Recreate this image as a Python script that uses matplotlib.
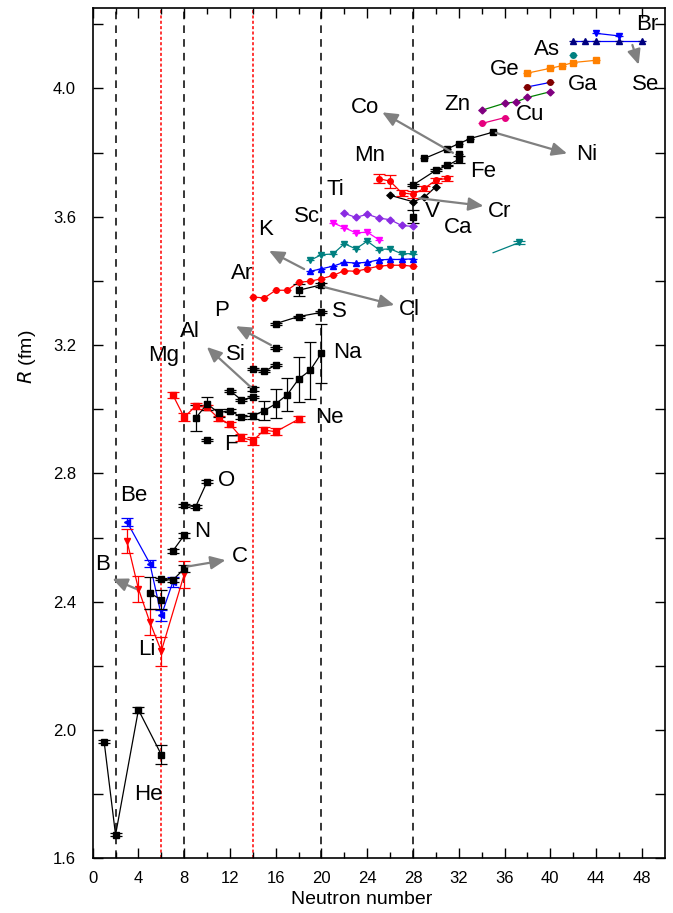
import numpy as np
import matplotlib
matplotlib.use("Agg")
import matplotlib.pyplot as plt

plt.rcParams["font.family"] = ["Liberation Sans", "DejaVu Sans"]

# ---------- data: (neutron number, radius, error) per element ----------
HE_N = [1, 2, 4, 6];  HE_R = [1.964, 1.673, 2.063, 1.923];  HE_E = [0.005, 0.005, 0.01, 0.03]
LI_N = [3, 4, 5, 6, 8];  LI_R = [2.589, 2.44, 2.336, 2.246, 2.485];  LI_E = [0.037, 0.04, 0.04, 0.045, 0.042]
BE_N = [3, 5, 6, 7];  BE_R = [2.649, 2.519, 2.357, 2.461];  BE_E = [0.012, 0.01, 0.016, 0.015]
B_N = [5, 6];  B_R = [2.427, 2.406];  B_E = [0.05, 0.03]
C_N = [6, 7, 8];  C_R = [2.47, 2.467, 2.503];  C_E = [0.003, 0.006, 0.01]
N_N = [7, 8];  N_R = [2.558, 2.607];  N_E = [0.007, 0.008]
O_N = [8, 9, 10];  O_R = [2.701, 2.696, 2.774];  O_E = [0.005, 0.005, 0.005]
F_N = [10];  F_R = [2.904];  F_E = [0.004]
NE_N = [7, 8, 9, 10, 11, 12, 13, 14, 15, 16, 18]
NE_R = [3.045, 2.975, 3.010, 3.006, 2.972, 2.953, 2.912, 2.902, 2.935, 2.93, 2.969]
NE_E = [0.01, 0.012, 0.01, 0.008, 0.008, 0.008, 0.01, 0.012, 0.01, 0.01, 0.01]
NA_N = [9, 10, 11, 12, 13, 14, 15, 16, 17, 18, 19, 20]
NA_R = [2.972, 3.017, 2.989, 2.996, 2.975, 2.979, 2.996, 3.017, 3.045, 3.094, 3.121, 3.175]
NA_E = [0.04, 0.02, 0.012, 0.005, 0.006, 0.01, 0.03, 0.045, 0.052, 0.07, 0.09, 0.092]
MG_N = [12, 13, 14];  MG_R = [3.058, 3.029, 3.038];  MG_E = [0.003, 0.003, 0.003]
AL_N = [14];  AL_R = [3.063];  AL_E = [0.005]
SI_N = [14, 15, 16];  SI_R = [3.125, 3.118, 3.138];  SI_E = [0.003, 0.003, 0.003]
P_N = [16];  P_R = [3.19];  P_E = [0.003]
S_N = [16, 18, 20];  S_R = [3.267, 3.289, 3.302];  S_E = [0.003, 0.003, 0.003]
CL_N = [18, 20];  CL_R = [3.371, 3.388];  CL_E = [0.018, 0.006]
AR_N = list(range(14, 29))
AR_R = [3.35, 3.347, 3.371, 3.371, 3.396, 3.399, 3.407, 3.417, 3.432, 3.43, 3.438, 3.446, 3.449, 3.449, 3.446]
K_N = list(range(19, 29))
K_R = [3.43, 3.438, 3.446, 3.458, 3.456, 3.458, 3.466, 3.467, 3.467, 3.469]
CA_N = list(range(19, 29))
CA_R = [3.464, 3.482, 3.484, 3.516, 3.5, 3.524, 3.498, 3.5, 3.485, 3.485]
CA2_N = [35.0, 37.3];  CA2_R = [3.488, 3.52]
SC_N = [21, 22, 23, 24, 25];  SC_R = [3.581, 3.566, 3.55, 3.552, 3.529]
TI_N = [22, 23, 24, 25, 26, 27, 28];  TI_R = [3.611, 3.598, 3.608, 3.596, 3.591, 3.573, 3.57]
V_N = [28];  V_R = [3.6];  V_E = [0.02]
CR_N = [26, 28, 29, 30];  CR_R = [3.667, 3.647, 3.661, 3.694]
MN_N = [25, 26, 27, 28, 29, 30, 31];  MN_R = [3.719, 3.711, 3.675, 3.67, 3.689, 3.714, 3.72]
MN_E = [0.015, 0.02, 0.01, 0.01, 0.008, 0.008, 0.008]
FE_N = [28, 30, 31, 32];  FE_R = [3.699, 3.745, 3.76, 3.779];  FE_E = [0.003, 0.003, 0.003, 0.01]
CO_N = [32];  CO_R = [3.795]
NI_N = [29, 31, 32, 33, 35];  NI_R = [3.782, 3.812, 3.828, 3.844, 3.864]
CU_N = [34, 36];  CU_R = [3.891, 3.909]
ZN_N = [34, 36, 37, 38, 40];  ZN_R = [3.932, 3.954, 3.958, 3.972, 3.99]
GA_N = [38, 40];  GA_R = [4.005, 4.019]
GE_N = [38, 40, 41, 42, 44];  GE_R = [4.048, 4.063, 4.071, 4.081, 4.088]
AS_N = [42];  AS_R = [4.104]
SE_N = [42, 43, 44, 46, 48];  SE_R = [4.147, 4.147, 4.147, 4.147, 4.147]
BR_N = [44, 46];  BR_R = [4.172, 4.164]

MAGIC_BLACK = [2, 8, 20, 28]
MAGIC_RED = [6, 14]

# label text, position (N, R)
LABELS = [("He", 4.85, 1.80), ("Li", 4.75, 2.25), ("Be", 3.6, 2.73), ("B", 0.9, 2.515),
          ("C", 12.9, 2.54), ("N", 9.6, 2.62), ("O", 11.7, 2.777), ("F", 12.1, 2.89),
          ("Ne", 20.7, 2.973), ("Mg", 6.2, 3.167), ("Na", 22.3, 3.176), ("Si", 12.5, 3.17),
          ("Al", 8.5, 3.242), ("P", 11.3, 3.307), ("S", 21.6, 3.304), ("Cl", 27.7, 3.311),
          ("Ar", 13.1, 3.423), ("K", 15.15, 3.56), ("Sc", 18.7, 3.60), ("Ti", 21.2, 3.685),
          ("Ca", 31.9, 3.566), ("V", 29.7, 3.616), ("Cr", 35.6, 3.616), ("Mn", 24.2, 3.79),
          ("Fe", 34.1, 3.741), ("Co", 23.8, 3.94), ("Ni", 43.2, 3.795), ("Zn", 31.9, 3.95),
          ("Cu", 38.2, 3.92), ("Ga", 42.8, 4.013), ("Ge", 36.0, 4.06), ("As", 39.7, 4.123),
          ("Se", 48.3, 4.013), ("Br", 48.5, 4.2)]

# gray arrows: (tail N, tail R, head N, head R)
ARROWS = [(4.0, 2.437, 1.5, 2.475), (8.0, 2.508, 11.85, 2.531), (14.0, 3.063, 9.8, 3.2),
          (15.8, 3.196, 12.3, 3.263), (18.7, 3.433, 15.2, 3.498), (20.0, 3.383, 26.6, 3.323),
          (28.3, 3.659, 34.4, 3.633), (31.7, 3.795, 25.1, 3.93), (35.0, 3.864, 41.7, 3.795),
          (47.1, 4.144, 47.8, 4.066)]

fig = plt.figure(figsize=(6.73, 9.13), dpi=100)
ax = fig.add_axes([0.1377, 0.0599, 0.85, 0.931])


def chain(n, r, e=None, color="k", marker="s", ms=4, lc=None, lw=0.9, mark=None):
    lc = color if lc is None else lc
    mark = list(range(len(n))) if mark is None else mark
    n_m = [n[i] for i in mark]
    r_m = [r[i] for i in mark]
    ax.plot(n, r, "-", color=lc, lw=lw, zorder=2)
    if e is not None:
        ax.errorbar(n_m, r_m, yerr=e, fmt="none", ecolor=color, elinewidth=0.9,
                    capsize=4, capthick=0.9, zorder=3)
    else:
        ax.errorbar(n_m, r_m, xerr=0.35, fmt="none", ecolor=color, elinewidth=0.9, zorder=3)
    ax.plot(n_m, r_m, linestyle="none", marker=marker, color=color, ms=ms, zorder=4)


for x in MAGIC_BLACK:
    ax.axvline(x, color="k", ls=(0, (5, 4)), lw=1.1, zorder=1)
for x in MAGIC_RED:
    ax.axvline(x, color="red", ls=(0, (2, 1.5)), lw=1.1, zorder=1)

chain(HE_N, HE_R, HE_E)
chain(LI_N, LI_R, LI_E, color="red", marker="v", ms=5)
chain(BE_N, BE_R, BE_E, color="blue", marker="<", ms=5)
chain(B_N, B_R, B_E)
chain(C_N, C_R, C_E)
chain(N_N, N_R, N_E)
chain(O_N, O_R, O_E)
chain(F_N, F_R, F_E)
chain(NE_N, NE_R, NE_E, color="red", marker="s")
chain(NA_N, NA_R, NA_E)
chain(MG_N, MG_R, MG_E)
chain(AL_N, AL_R, AL_E)
chain(SI_N, SI_R, SI_E)
chain(P_N, P_R, P_E)
chain(S_N, S_R, S_E)
chain(CL_N, CL_R, CL_E)
chain(AR_N, AR_R, color="red", marker="o")
chain(K_N, K_R, color="blue", marker="^")
chain(CA_N, CA_R, color="#008080", marker="v")
chain(CA2_N, CA2_R, [0.006], color="#008080", marker="v", mark=[1])
chain(SC_N, SC_R, color="magenta", marker="v")
chain(TI_N, TI_R, color="#8a2be2", marker="D", ms=3.5)
chain(V_N, V_R, V_E)
chain(CR_N, CR_R, marker="D", ms=3.5)
chain(MN_N, MN_R, MN_E, color="red", marker="o")
chain(FE_N, FE_R, FE_E)
chain(CO_N, CO_R)
chain(NI_N, NI_R)
chain(CU_N, CU_R, color="#e6007e", marker="o")
chain(ZN_N, ZN_R, color="#800080", marker="D", ms=3.5, lc="green")
chain(GA_N, GA_R, color="#800000", marker="o", lc="blue")
chain(GE_N, GE_R, color="#ff8000", marker="s")
chain(AS_N, AS_R, color="#008080", marker="o")
chain(SE_N, SE_R, color="#000080", marker="^", lc="blue")
chain(BR_N, BR_R, color="blue", marker="v")

for x0, y0, x1, y1 in ARROWS:
    ax.annotate("", xy=(x1, y1), xytext=(x0, y0),
                arrowprops=dict(arrowstyle="-|>,head_length=0.9,head_width=0.4",
                                color="#808080", lw=1.6), zorder=5)

for txt, x, y in LABELS:
    ax.text(x, y, txt, fontsize=16, ha="center", va="center", zorder=6)

ax.set_xlim(0, 50)
ax.set_ylim(1.6, 4.25)
ax.set_xticks(np.arange(0, 49, 4))
ax.set_xticks(np.arange(2, 50, 4), minor=True)
ax.set_yticks([1.6, 2.0, 2.4, 2.8, 3.2, 3.6, 4.0])
ax.set_yticks([1.8, 2.2, 2.6, 3.0, 3.4, 3.8, 4.2], minor=True)
ax.tick_params(which="both", direction="in", top=True, right=True, labelsize=12,
               width=1.0)
ax.tick_params(axis="x", which="major", length=7, pad=9)
ax.tick_params(axis="x", which="minor", length=4)
ax.tick_params(axis="y", which="both", length=7, pad=12)
ax.set_xlabel("Neutron number", fontsize=14)
ax.set_ylabel("$R$ (fm)", fontsize=14)
ax.xaxis.set_label_coords(0.47, -0.039)
ax.yaxis.set_label_coords(-0.095, 0.59)
for s in ax.spines.values():
    s.set_linewidth(1.2)

fig.savefig("out.png", dpi=100)
